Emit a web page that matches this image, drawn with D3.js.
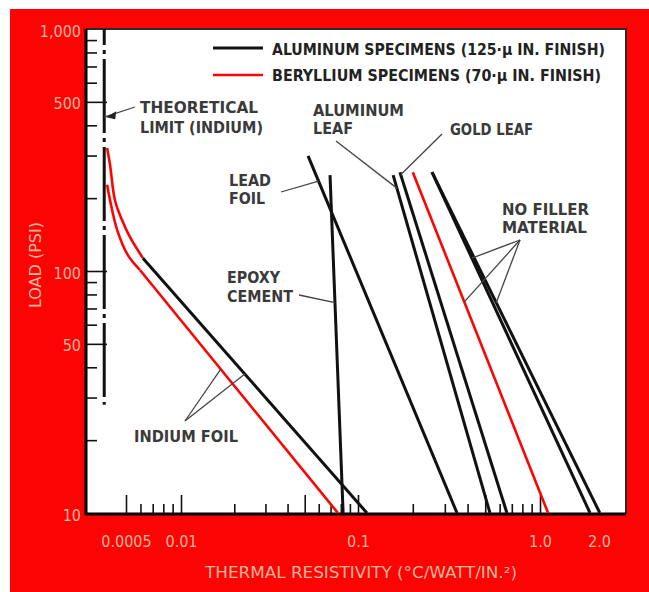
<!DOCTYPE html>
<html>
<head>
<meta charset="utf-8">
<script src="https://cdn.jsdelivr.net/npm/d3@7"></script>
<style>
  body { margin: 0; background: #fff; }
  svg { display: block; }
</style>
</head>
<body>
<svg id="chart" width="649" height="592"></svg>
<script>
// values: x = thermal resistivity (°C/watt/in²), y = load (psi)
const yMinorTicks = [20, 30, 40, 60, 70, 80, 90, 200, 300, 400, 600, 700, 800, 900];
const yMajorTicks = [50, 100, 500];
const yLabelValues = [10, 50, 100, 500, 1000];

const xMinorTicks = [0.006, 0.007, 0.008, 0.009, 0.02, 0.03, 0.04, 0.06, 0.07, 0.08, 0.09,
  0.2, 0.3, 0.4, 0.6, 0.7, 0.8, 0.9];
const xMajorTicks = [0.005, 0.01, 0.05, 0.1, 0.5, 1];
const xLabelValues = [0.005, 0.01, 0.1, 1, 2];
const xLabelText = ['0.0005', '0.01', '0.1', '1.0', '2.0'];

const theoreticalLimit = [[0.0038, 1000], [0.0038, 28]];
// indium foil, aluminum: the bend is printed red in the original
const indiumAlBend = [[0.00394, 322], [0.00409, 274], [0.00435, 196], [0.00476, 162], [0.00526, 138], [0.00619, 113]];
const indiumAl = [[0.00619, 113], [0.112, 10]];
const indiumBeBend = [[0.00394, 227], [0.00409, 196], [0.00447, 148], [0.00513, 116], [0.00596, 101]];
const indiumBe = [[0.00596, 101], [0.077, 10]];
const epoxyAl = [[0.0695, 249], [0.0824, 10]];
const leadAl = [[0.0522, 299], [0.35, 10]];
const aluLeafAl = [[0.156, 249], [0.531, 10]];
const goldLeafAl = [[0.17, 256], [0.658, 10]];
const noFillerBe = [[0.2, 256], [1.1, 10]];
const noFillerAl1 = [[0.255, 256], [1.8, 10]];
const noFillerAl2 = [[0.255, 256], [2.02, 10]];

const RED = '#fc0404';
const INK = '#111';
const PEACH = '#f7b59a';
const NOTE = '#3a3a3a';
const FONT = '"DejaVu Sans Condensed", "DejaVu Sans", sans-serif';

const svg = d3.select('#chart');
const m = { left: 86, top: 29, right: 626, bottom: 514 };

// the axis is broken in the original, so keep it piecewise
const x = d3.scaleLog().domain([0.005, 0.01, 0.1, 1, 2]).range([126, 181, 358, 540, 599]);
const y = d3.scaleLog().domain([10, 1000]).range([513, 29]);

svg.append('rect').attr('x', 10).attr('y', 9).attr('width', 639).attr('height', 583).attr('fill', RED);
svg.append('rect')
  .attr('x', m.left).attr('y', m.top)
  .attr('width', m.right - m.left).attr('height', m.bottom - m.top)
  .attr('fill', '#fff');

// ticks point inwards
const tickStyle = g => {
  g.select('.domain').remove();
  g.selectAll('line').attr('stroke', INK).attr('stroke-width', 1.6);
};
svg.append('g').attr('transform', `translate(${m.left},0)`)
  .call(d3.axisLeft(y).tickValues(yMinorTicks).tickSize(-11).tickFormat(''))
  .call(tickStyle);
svg.append('g').attr('transform', `translate(${m.left},0)`)
  .call(d3.axisLeft(y).tickValues(yMajorTicks).tickSize(-21).tickFormat(''))
  .call(tickStyle);
svg.append('g').attr('transform', `translate(0,${m.bottom})`)
  .call(d3.axisBottom(x).tickValues(xMinorTicks).tickSize(-10).tickFormat(''))
  .call(tickStyle);
svg.append('g').attr('transform', `translate(0,${m.bottom})`)
  .call(d3.axisBottom(x).tickValues(xMajorTicks).tickSize(-19).tickFormat(''))
  .call(tickStyle);

const labelStyle = g => {
  g.select('.domain').remove();
  g.attr('font-family', FONT).attr('font-size', 16);
  g.selectAll('text').attr('fill', PEACH);
};
svg.append('g').attr('transform', `translate(${m.left - 3},2)`)
  .call(d3.axisLeft(y).tickValues(yLabelValues).tickSize(0).tickPadding(2).tickFormat(d3.format(',')))
  .call(labelStyle);
svg.append('g').attr('transform', `translate(0,${m.bottom})`)
  .call(d3.axisBottom(x).tickValues(xLabelValues).tickSize(0).tickPadding(22)
    .tickFormat((d, i) => xLabelText[i]))
  .call(labelStyle);

// frame
const frame = svg.append('g').attr('fill', 'none');
frame.append('path').attr('d', `M${m.left},${m.top}H${m.right}V${m.bottom}`)
  .attr('stroke', '#2a2a2a').attr('stroke-width', 2);
frame.append('path').attr('d', `M${m.left},${m.top}V${m.bottom}H${m.right}`)
  .attr('stroke', '#000').attr('stroke-width', 3);

// axis titles
svg.append('text').attr('x', 361).attr('y', 578).attr('text-anchor', 'middle')
  .attr('font-family', FONT).attr('font-size', 16).attr('fill', PEACH)
  .attr('textLength', 312).attr('lengthAdjust', 'spacingAndGlyphs')
  .text('THERMAL RESISTIVITY (°C/WATT/IN.²)');
svg.append('text').attr('transform', 'translate(41,265) rotate(-90)').attr('text-anchor', 'middle')
  .attr('font-family', FONT).attr('font-size', 16).attr('fill', PEACH)
  .attr('textLength', 86).attr('lengthAdjust', 'spacingAndGlyphs')
  .text('LOAD (PSI)');

// data lines
const line = d3.line().x(d => x(d[0])).y(d => y(d[1]));
const bend = d3.line().x(d => x(d[0])).y(d => y(d[1])).curve(d3.curveCatmullRom);
const lines = svg.append('g').attr('fill', 'none').attr('stroke-linecap', 'butt');

lines.append('path').attr('d', line(theoreticalLimit))
  .attr('stroke', INK).attr('stroke-width', 3).attr('stroke-dasharray', '74,5,4,5').attr('stroke-dashoffset', 58);

[indiumAlBend, indiumBeBend].forEach(s =>
  lines.append('path').attr('d', bend(s)).attr('stroke', RED).attr('stroke-width', 2.6));
[indiumBe, noFillerBe].forEach(s =>
  lines.append('path').attr('d', line(s)).attr('stroke', RED).attr('stroke-width', 2.6));
[indiumAl, epoxyAl, leadAl, aluLeafAl, goldLeafAl, noFillerAl1, noFillerAl2].forEach(s =>
  lines.append('path').attr('d', line(s)).attr('stroke', INK).attr('stroke-width', 3));

// point on a series (pixel space) at a given load
function on(series, load) {
  const py = y(load);
  for (let i = 0; i < series.length - 1; i++) {
    const y0 = y(series[i][1]), y1 = y(series[i + 1][1]);
    if ((py - y0) * (py - y1) <= 0) {
      const t = (py - y0) / (y1 - y0);
      return [x(series[i][0]) + t * (x(series[i + 1][0]) - x(series[i][0])), py];
    }
  }
  return [x(series[0][0]), py];
}

// legend
const legend = svg.append('g').attr('font-family', FONT).attr('font-weight', 'bold').attr('font-size', 16).attr('fill', '#222');
legend.append('line').attr('x1', 213).attr('x2', 263).attr('y1', 48).attr('y2', 48).attr('stroke', INK).attr('stroke-width', 3);
legend.append('line').attr('x1', 213).attr('x2', 263).attr('y1', 75).attr('y2', 75).attr('stroke', RED).attr('stroke-width', 2.6);
legend.append('text').attr('x', 272).attr('y', 55).attr('textLength', 333).attr('lengthAdjust', 'spacingAndGlyphs')
  .text('ALUMINUM SPECIMENS (125·μ IN. FINISH)');
legend.append('text').attr('x', 272).attr('y', 81).attr('textLength', 329).attr('lengthAdjust', 'spacingAndGlyphs')
  .text('BERYLLIUM SPECIMENS (70·μ IN. FINISH)');

// annotations
const notes = [
  { t: 'THEORETICAL', x: 140, y: 113, w: 118 },
  { t: 'LIMIT (INDIUM)', x: 140, y: 133, w: 123 },
  { t: 'ALUMINUM', x: 313, y: 115.5, w: 91 },
  { t: 'LEAF', x: 313, y: 134, w: 40 },
  { t: 'GOLD LEAF', x: 450, y: 135, w: 83 },
  { t: 'LEAD', x: 229, y: 185.5, w: 42 },
  { t: 'FOIL', x: 229, y: 204, w: 36 },
  { t: 'EPOXY', x: 227, y: 283, w: 53 },
  { t: 'CEMENT', x: 227, y: 302, w: 66 },
  { t: 'NO FILLER', x: 502, y: 214.5, w: 87 },
  { t: 'MATERIAL', x: 502, y: 233, w: 85 },
  { t: 'INDIUM FOIL', x: 134, y: 442, w: 104 }
];
svg.append('g').attr('font-family', FONT).attr('font-weight', 'bold').attr('font-size', 15.5).attr('fill', NOTE)
  .selectAll('text').data(notes).join('text')
  .attr('x', d => d.x).attr('y', d => d.y)
  .attr('textLength', d => d.w).attr('lengthAdjust', 'spacingAndGlyphs')
  .text(d => d.t);

const pointers = [
  [[336, 141], on(aluLeafAl, 220)],
  [[442, 134], on(goldLeafAl, 250)],
  [[281, 192], on(leadAl, 235)],
  [[299, 295], on(epoxyAl, 74)],
  [[520, 240], on(noFillerAl1, 113)],
  [[520, 240], on(noFillerBe, 74.5)],
  [[520, 240], on(noFillerAl2, 74)],
  [[185, 421], on(indiumBe, 39.3)],
  [[185, 421], on(indiumAl, 37.5)],
  [[135, 107], on(theoreticalLimit, 432)]
];
svg.append('g').attr('stroke', '#444').attr('stroke-width', 1.3)
  .selectAll('line').data(pointers).join('line')
  .attr('x1', d => d[0][0]).attr('y1', d => d[0][1])
  .attr('x2', d => d[1][0]).attr('y2', d => d[1][1]);

// arrow head on the theoretical-limit pointer
const tip = on(theoreticalLimit, 432);
svg.append('path')
  .attr('d', `M${tip[0] + 2},${tip[1]}l10,-6l-1,8z`)
  .attr('fill', '#222');
</script>
</body>
</html>
